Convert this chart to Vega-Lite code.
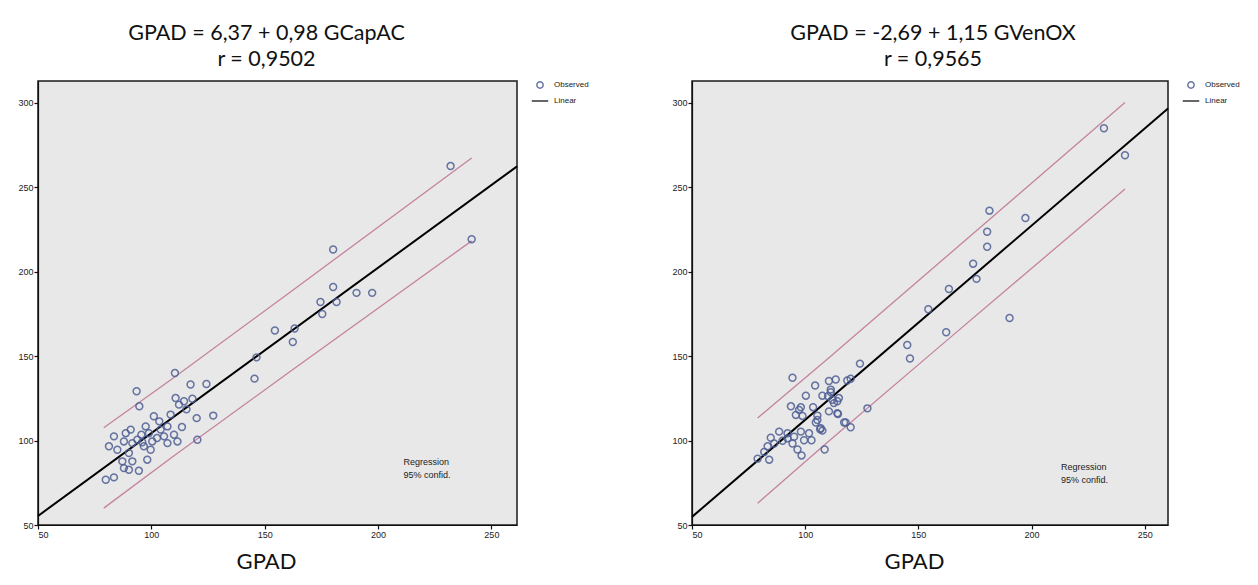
{
  "$schema": "https://vega.github.io/schema/vega-lite/v6.json",
  "background": "white",
  "padding": {"left": 17, "top": 21, "right": 0, "bottom": 0},
  "spacing": 81,
  "config": {
    "font": "Lato",
    "view": {"stroke": "#1a1a1a", "strokeWidth": 1.5, "fill": "#e8e8e8"},
    "axis": {"domainColor": "#111", "domainWidth": 1.2, "tickColor": "#111", "tickSize": 4, "tickWidth": 1.2, "labelFont": "Liberation Sans", "labelFontSize": 9, "labelColor": "#222", "grid": false, "titleFont": "Lato", "titleFontSize": 22, "titleFontWeight": "normal", "titleColor": "#111", "labelPadding": 1},
    "title": {"font": "Lato", "fontSize": 21.5, "fontWeight": "normal", "color": "#111", "anchor": "middle", "frame": "group", "offset": 11, "lineHeight": 26},
    "legend": {"orient": "right", "offset": 19, "padding": 0, "labelFont": "Liberation Sans", "labelFontSize": 8, "labelColor": "#222", "labelOffset": 10, "rowPadding": 5, "symbolSize": 40, "symbolStrokeWidth": 1.5}
  },
  "resolve": {"scale": {"color": "independent", "shape": "independent"}, "legend": {"color": "independent", "shape": "independent"}},
  "datasets": {
    "leftPts": [
      {"x": 110.4, "y": 140.0, "s": "Observed"}, {"x": 93.5, "y": 129.2, "s": "Observed"}, {"x": 117.3, "y": 133.2, "s": "Observed"}, {"x": 124.3, "y": 133.5, "s": "Observed"},
      {"x": 94.7, "y": 120.3, "s": "Observed"}, {"x": 110.7, "y": 125.2, "s": "Observed"}, {"x": 114.4, "y": 123.3, "s": "Observed"}, {"x": 118.1, "y": 124.8, "s": "Observed"},
      {"x": 112.2, "y": 121.3, "s": "Observed"}, {"x": 120.0, "y": 113.3, "s": "Observed"}, {"x": 127.3, "y": 114.8, "s": "Observed"}, {"x": 108.5, "y": 115.4, "s": "Observed"},
      {"x": 101.1, "y": 114.4, "s": "Observed"}, {"x": 103.5, "y": 111.4, "s": "Observed"}, {"x": 97.5, "y": 108.4, "s": "Observed"}, {"x": 90.9, "y": 106.5, "s": "Observed"},
      {"x": 88.7, "y": 104.4, "s": "Observed"}, {"x": 83.5, "y": 102.5, "s": "Observed"}, {"x": 95.6, "y": 103.5, "s": "Observed"}, {"x": 98.9, "y": 104.4, "s": "Observed"},
      {"x": 104.1, "y": 106.5, "s": "Observed"}, {"x": 105.6, "y": 102.5, "s": "Observed"}, {"x": 110.0, "y": 103.5, "s": "Observed"}, {"x": 111.5, "y": 99.5, "s": "Observed"},
      {"x": 107.1, "y": 98.5, "s": "Observed"}, {"x": 100.4, "y": 99.5, "s": "Observed"}, {"x": 93.8, "y": 100.5, "s": "Observed"}, {"x": 91.6, "y": 98.5, "s": "Observed"},
      {"x": 87.9, "y": 99.5, "s": "Observed"}, {"x": 81.3, "y": 96.6, "s": "Observed"}, {"x": 85.0, "y": 94.6, "s": "Observed"}, {"x": 96.7, "y": 96.6, "s": "Observed"},
      {"x": 90.1, "y": 92.6, "s": "Observed"}, {"x": 87.2, "y": 87.7, "s": "Observed"}, {"x": 91.6, "y": 87.7, "s": "Observed"}, {"x": 98.2, "y": 88.7, "s": "Observed"},
      {"x": 87.9, "y": 83.7, "s": "Observed"}, {"x": 90.1, "y": 82.7, "s": "Observed"}, {"x": 94.5, "y": 82.1, "s": "Observed"}, {"x": 79.9, "y": 76.8, "s": "Observed"},
      {"x": 83.5, "y": 78.2, "s": "Observed"}, {"x": 120.3, "y": 100.5, "s": "Observed"}, {"x": 99.7, "y": 94.6, "s": "Observed"}, {"x": 107.1, "y": 108.4, "s": "Observed"},
      {"x": 102.5, "y": 101.5, "s": "Observed"}, {"x": 96.0, "y": 99.0, "s": "Observed"}, {"x": 113.5, "y": 108.0, "s": "Observed"}, {"x": 115.5, "y": 118.5, "s": "Observed"},
      {"x": 180.2, "y": 213.2, "s": "Observed"}, {"x": 180.2, "y": 191.0, "s": "Observed"}, {"x": 174.6, "y": 182.1, "s": "Observed"}, {"x": 181.7, "y": 182.1, "s": "Observed"},
      {"x": 190.5, "y": 187.5, "s": "Observed"}, {"x": 197.4, "y": 187.5, "s": "Observed"}, {"x": 175.4, "y": 175.0, "s": "Observed"}, {"x": 154.5, "y": 165.2, "s": "Observed"},
      {"x": 163.2, "y": 166.4, "s": "Observed"}, {"x": 162.4, "y": 158.4, "s": "Observed"}, {"x": 146.4, "y": 149.3, "s": "Observed"}, {"x": 145.5, "y": 136.7, "s": "Observed"},
      {"x": 232.0, "y": 262.6, "s": "Observed"}, {"x": 241.3, "y": 219.3, "s": "Observed"}
    ],
    "rightPts": [
      {"x": 181.4, "y": 236.2, "s": "Observed"}, {"x": 197.3, "y": 231.8, "s": "Observed"}, {"x": 180.4, "y": 223.7, "s": "Observed"}, {"x": 180.4, "y": 214.8, "s": "Observed"},
      {"x": 174.2, "y": 204.8, "s": "Observed"}, {"x": 175.7, "y": 195.8, "s": "Observed"}, {"x": 163.5, "y": 189.8, "s": "Observed"}, {"x": 154.4, "y": 177.8, "s": "Observed"},
      {"x": 190.3, "y": 172.6, "s": "Observed"}, {"x": 162.3, "y": 164.2, "s": "Observed"}, {"x": 145.1, "y": 156.6, "s": "Observed"}, {"x": 146.3, "y": 148.6, "s": "Observed"},
      {"x": 124.2, "y": 145.6, "s": "Observed"}, {"x": 94.4, "y": 137.2, "s": "Observed"}, {"x": 104.4, "y": 132.6, "s": "Observed"}, {"x": 110.5, "y": 135.3, "s": "Observed"},
      {"x": 113.5, "y": 136.2, "s": "Observed"}, {"x": 118.6, "y": 135.6, "s": "Observed"}, {"x": 120.1, "y": 136.6, "s": "Observed"}, {"x": 100.3, "y": 126.6, "s": "Observed"},
      {"x": 107.6, "y": 126.6, "s": "Observed"}, {"x": 111.3, "y": 128.7, "s": "Observed"}, {"x": 112.0, "y": 124.2, "s": "Observed"}, {"x": 114.2, "y": 123.3, "s": "Observed"},
      {"x": 103.5, "y": 119.8, "s": "Observed"}, {"x": 93.7, "y": 120.3, "s": "Observed"}, {"x": 97.3, "y": 118.2, "s": "Observed"}, {"x": 95.9, "y": 115.2, "s": "Observed"},
      {"x": 105.4, "y": 112.2, "s": "Observed"}, {"x": 110.5, "y": 117.3, "s": "Observed"}, {"x": 114.5, "y": 115.8, "s": "Observed"}, {"x": 127.5, "y": 119.1, "s": "Observed"},
      {"x": 117.9, "y": 110.7, "s": "Observed"}, {"x": 120.1, "y": 107.9, "s": "Observed"}, {"x": 106.9, "y": 107.3, "s": "Observed"}, {"x": 111.3, "y": 130.2, "s": "Observed"},
      {"x": 110.1, "y": 126.3, "s": "Observed"}, {"x": 114.9, "y": 125.2, "s": "Observed"}, {"x": 112.7, "y": 122.2, "s": "Observed"}, {"x": 114.2, "y": 116.2, "s": "Observed"},
      {"x": 98.1, "y": 119.7, "s": "Observed"}, {"x": 98.8, "y": 114.6, "s": "Observed"}, {"x": 105.4, "y": 114.8, "s": "Observed"}, {"x": 104.7, "y": 110.7, "s": "Observed"},
      {"x": 106.6, "y": 106.7, "s": "Observed"}, {"x": 117.2, "y": 110.7, "s": "Observed"}, {"x": 88.5, "y": 105.3, "s": "Observed"}, {"x": 92.2, "y": 104.3, "s": "Observed"},
      {"x": 95.1, "y": 102.3, "s": "Observed"}, {"x": 98.1, "y": 105.3, "s": "Observed"}, {"x": 101.7, "y": 104.3, "s": "Observed"}, {"x": 99.5, "y": 100.2, "s": "Observed"},
      {"x": 102.8, "y": 100.2, "s": "Observed"}, {"x": 107.6, "y": 105.9, "s": "Observed"}, {"x": 84.8, "y": 101.7, "s": "Observed"}, {"x": 86.3, "y": 98.3, "s": "Observed"},
      {"x": 83.4, "y": 96.6, "s": "Observed"}, {"x": 81.9, "y": 93.3, "s": "Observed"}, {"x": 79.0, "y": 89.3, "s": "Observed"}, {"x": 84.1, "y": 88.7, "s": "Observed"},
      {"x": 92.2, "y": 101.3, "s": "Observed"}, {"x": 90.0, "y": 99.9, "s": "Observed"}, {"x": 96.6, "y": 94.7, "s": "Observed"}, {"x": 98.4, "y": 91.2, "s": "Observed"},
      {"x": 108.6, "y": 94.7, "s": "Observed"}, {"x": 94.4, "y": 98.3, "s": "Observed"},
      {"x": 232.0, "y": 285.0, "s": "Observed"}, {"x": 241.3, "y": 269.0, "s": "Observed"}
    ],
    "leftReg": [{"x": 50, "y": 55.37}, {"x": 261.3, "y": 262.44}],
    "rightReg": [{"x": 50, "y": 54.81}, {"x": 260.3, "y": 296.66}],
    "leftBand": [
      {"band": "upper", "x": 79, "y": 107.6}, {"band": "upper", "x": 110, "y": 137.4}, {"band": "upper", "x": 160, "y": 186.7}, {"band": "upper", "x": 241.3, "y": 267.4},
      {"band": "lower", "x": 79, "y": 60.0}, {"band": "lower", "x": 110, "y": 91.0}, {"band": "lower", "x": 160, "y": 139.7}, {"band": "lower", "x": 241.3, "y": 218.3}
    ],
    "rightBand": [
      {"band": "upper", "x": 79, "y": 113.4}, {"band": "upper", "x": 110, "y": 148.5}, {"band": "upper", "x": 160, "y": 206.2}, {"band": "upper", "x": 241.3, "y": 300.3},
      {"band": "lower", "x": 79, "y": 62.9}, {"band": "lower", "x": 110, "y": 99.1}, {"band": "lower", "x": 160, "y": 156.4}, {"band": "lower", "x": 241.3, "y": 249.0}
    ]
  },
  "hconcat": [
    {
      "title": {"text": ["GPAD = 6,37 + 0,98 GCapAC", "r = 0,9502"], "dx": -11},
      "width": 479,
      "height": 444,
      "layer": [
        {
          "data": {"name": "leftBand"},
          "mark": {"type": "line", "color": "#c4839f", "strokeWidth": 1.3},
          "encoding": {
            "x": {"field": "x", "type": "quantitative", "scale": {"domain": [50, 261.3], "nice": false, "zero": false}, "axis": {"title": "GPAD", "values": [50, 100, 150, 200, 250], "titlePadding": 12, "titleX": 228}},
            "y": {"field": "y", "type": "quantitative", "scale": {"domain": [50, 313], "nice": false, "zero": false}, "axis": {"title": null, "values": [50, 100, 150, 200, 250, 300]}},
            "detail": {"field": "band"}
          }
        },
        {
          "data": {"name": "leftReg"},
          "mark": {"type": "line", "color": "#000000", "strokeWidth": 2},
          "encoding": {"x": {"field": "x", "type": "quantitative"}, "y": {"field": "y", "type": "quantitative"}}
        },
        {
          "data": {"name": "leftPts"},
          "mark": {"type": "point", "filled": false, "size": 48, "strokeWidth": 1.5, "opacity": 0.85},
          "encoding": {
            "x": {"field": "x", "type": "quantitative"},
            "y": {"field": "y", "type": "quantitative"},
            "color": {"field": "s", "type": "nominal", "scale": {"domain": ["Observed", "Linear"], "range": ["#4f5f95", "#111111"]}, "legend": {"title": null}},
            "shape": {"field": "s", "type": "nominal", "scale": {"domain": ["Observed", "Linear"], "range": ["circle", "M-2.6,0H2.6"]}, "legend": {"title": null}}
          }
        },
        {
          "data": {"values": [{}]},
          "mark": {"type": "text", "text": ["Regression", "95% confid."], "align": "left", "baseline": "top", "font": "Liberation Sans", "fontSize": 9, "lineHeight": 13, "color": "#222"},
          "encoding": {"x": {"datum": 211.2}, "y": {"datum": 89.7}}
        }
      ]
    },
    {
      "title": {"text": ["GPAD = -2,69 + 1,15 GVenOX", "r = 0,9565"], "dx": 3},
      "width": 476,
      "height": 444,
      "layer": [
        {
          "data": {"name": "rightBand"},
          "mark": {"type": "line", "color": "#c4839f", "strokeWidth": 1.3},
          "encoding": {
            "x": {"field": "x", "type": "quantitative", "scale": {"domain": [50, 260.3], "nice": false, "zero": false}, "axis": {"title": "GPAD", "values": [50, 100, 150, 200, 250], "titlePadding": 12, "titleX": 222}},
            "y": {"field": "y", "type": "quantitative", "scale": {"domain": [50, 313], "nice": false, "zero": false}, "axis": {"title": null, "values": [50, 100, 150, 200, 250, 300]}},
            "detail": {"field": "band"}
          }
        },
        {
          "data": {"name": "rightReg"},
          "mark": {"type": "line", "color": "#000000", "strokeWidth": 2},
          "encoding": {"x": {"field": "x", "type": "quantitative"}, "y": {"field": "y", "type": "quantitative"}}
        },
        {
          "data": {"name": "rightPts"},
          "mark": {"type": "point", "filled": false, "size": 48, "strokeWidth": 1.5, "opacity": 0.85},
          "encoding": {
            "x": {"field": "x", "type": "quantitative"},
            "y": {"field": "y", "type": "quantitative"},
            "color": {"field": "s", "type": "nominal", "scale": {"domain": ["Observed", "Linear"], "range": ["#4f5f95", "#111111"]}, "legend": {"title": null}},
            "shape": {"field": "s", "type": "nominal", "scale": {"domain": ["Observed", "Linear"], "range": ["circle", "M-2.6,0H2.6"]}, "legend": {"title": null}}
          }
        },
        {
          "data": {"values": [{}]},
          "mark": {"type": "text", "text": ["Regression", "95% confid."], "align": "left", "baseline": "top", "font": "Liberation Sans", "fontSize": 9, "lineHeight": 13, "color": "#222"},
          "encoding": {"x": {"datum": 213}, "y": {"datum": 86.6}}
        }
      ]
    }
  ]
}
